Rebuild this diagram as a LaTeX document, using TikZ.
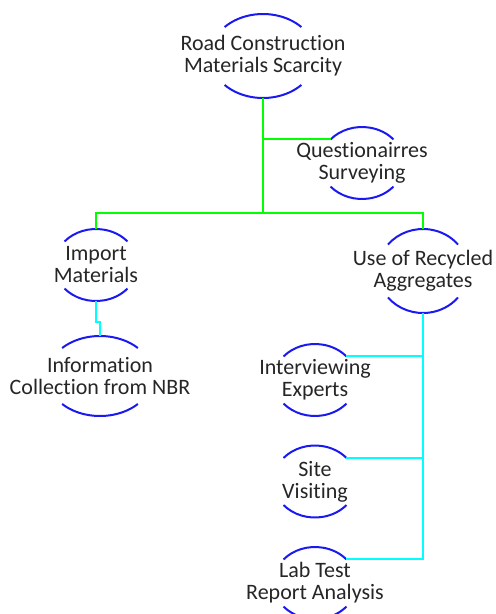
\documentclass[tikz,border=0pt]{standalone}
\usepackage{fontspec}
\setmainfont[Ligatures=NoCommon,Contextuals=NoAlternate]{Carlito}
\usetikzlibrary{calc}
\definecolor{arcblue}{RGB}{25,25,240}
\definecolor{lgreen}{RGB}{0,255,0}
\definecolor{lcyan}{RGB}{0,255,255}
\definecolor{txtgray}{RGB}{38,38,38}
\tikzset{
  txt/.style={align=center, inner sep=0pt, text=txtgray, font=\fontsize{22}{22}\selectfont},
  arcst/.style={draw=arcblue, line width=2pt},
  gline/.style={draw=lgreen, line width=2pt},
  cline/.style={draw=lcyan, line width=2pt},
}
% #1 node name, #2 x radius, #3 y radius, #4 parametric angle of arc ends
\newcommand\ovalarcs[4]{%
  \draw[arcst] ([shift={({-#2*cos(#4)},{#3*sin(#4)})}]#1.center) arc[start angle=180-#4, end angle=#4, x radius=#2pt, y radius=#3pt];
  \draw[arcst] ([shift={({-#2*cos(#4)},{-#3*sin(#4)})}]#1.center) arc[start angle=180+#4, end angle=360-#4, x radius=#2pt, y radius=#3pt];
  \coordinate (#1N) at ([yshift=#3pt]#1.center);
  \coordinate (#1S) at ([yshift=-#3pt]#1.center);
  \coordinate (#1TL) at ([shift={({-#2*cos(#4)},{#3*sin(#4)})}]#1.center);
  \coordinate (#1TR) at ([shift={({#2*cos(#4)},{#3*sin(#4)})}]#1.center);
}
\begin{document}
\begin{tikzpicture}[x=1pt,y=1pt]
\useasboundingbox (0,0) rectangle (496,-614);
\fill[white] (0,0) rectangle (496,-614);

\node[txt] (root) at (263,-56) {Road Construction\\Materials Scarcity};
\node[txt] (quest) at (362,-163) {Questionairres\\Surveying};
\node[txt] (imp) at (96,-265) {Import\\Materials};
\node[txt] (info) at (100,-376) {Information\\Collection from NBR};
\node[txt] (use) at (423,-271) {Use of Recycled\\Aggregates};
\node[txt] (intv) at (315,-380) {Interviewing\\Experts};
\node[txt] (site) at (315,-481.5) {Site\\Visiting};
\node[txt] (lab) at (315,-583) {Lab Test\\Report Analysis};

\ovalarcs{root}{53}{42}{43.6}
\ovalarcs{quest}{41.6}{36}{40.8}
\ovalarcs{imp}{41.6}{36}{40.8}
\ovalarcs{info}{53}{40}{44.4}
\ovalarcs{use}{45.1}{42}{39.1}
\ovalarcs{intv}{41.6}{36}{40.8}
\ovalarcs{site}{41.6}{36}{40.8}
\ovalarcs{lab}{41.6}{36}{40.8}

\coordinate (hub) at (263,-213);
\draw[gline] (rootS) |- (questTL);
\draw[gline] (rootS) -- (hub);
\draw[gline] (impN) -- (impN |- hub) -- (useN |- hub) -- (useN);

\draw[cline] (impS) -- ++(0,-21) -| (infoN);
\draw[cline] (useS) |- (labTR);
\draw[cline] (intvTR) -- (intvTR -| useS);
\draw[cline] (siteTR) -- (siteTR -| useS);
\end{tikzpicture}
\end{document}
